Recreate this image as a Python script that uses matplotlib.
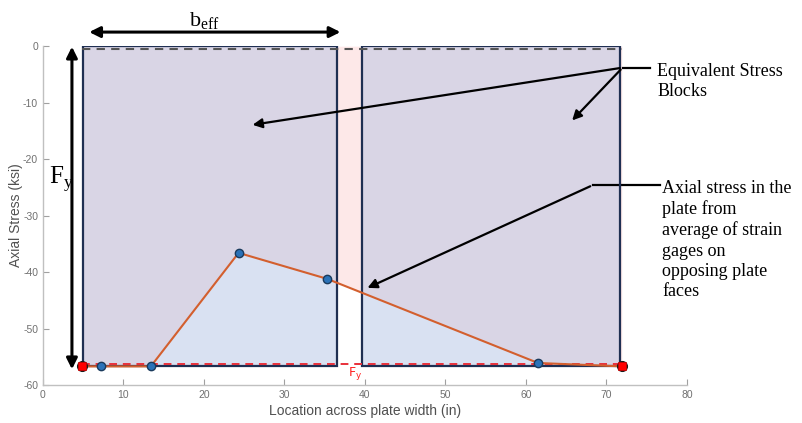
import numpy as np
import matplotlib.pyplot as plt
from matplotlib.patches import Rectangle

plt.rcParams['axes.unicode_minus'] = False

# strain gage data (location in, averaged axial stress ksi)
loc = [4.9, 7.2, 13.4, 24.3, 35.3, 61.5, 71.9]
stress = [-56.7, -56.7, -56.7, -36.6, -41.2, -56.1, -56.7]
Fy = -56.7

# equivalent stress blocks (left edge, right edge)
block_left = [4.97, 39.6]
block_right = [36.5, 71.7]

xticks = [0, 10, 20, 30, 40, 50, 60, 70, 80]
yticks = [0, -10, -20, -30, -40, -50, -60]

serif = 'Liberation Serif'
sans = 'Liberation Sans'

fig = plt.figure(figsize=(8.03, 4.23), dpi=100)
ax = fig.add_axes([0.0535, 0.0898, 0.802, 0.801])
ax.set_xlim(0, 80)
ax.set_ylim(-60, 0)

# pink area between curve and zero (only visible in the gap)
ax.fill_between(loc, stress, 0, color='#fde8e8', lw=0, zorder=0)

for l, r in zip(block_left, block_right):
    ax.add_patch(Rectangle((l, Fy), r - l, -Fy, facecolor='#d9d5e5', edgecolor='none', zorder=1))
    clip = Rectangle((l, Fy), r - l, -Fy, transform=ax.transData)
    fb = ax.fill_between(loc, Fy, stress, color='#d9e1f2', lw=0, zorder=2)
    fb.set_clip_path(clip)
    ax.add_patch(Rectangle((l, Fy), r - l, -Fy, facecolor='none', edgecolor='#1f2f52', lw=1.6, zorder=3))

ax.plot([loc[0], loc[-1]], [-0.45, -0.45], ls=(0, (4, 3)), color='#555555', lw=1.5, zorder=4)
ax.plot([loc[0], loc[-1]], [Fy + 0.35, Fy + 0.35], ls=(0, (4, 3)), color='#e8303a', lw=1.4, zorder=4)

ax.plot(loc, stress, color='#d35f2e', lw=1.5, zorder=5)
ax.plot(loc[1:-1], stress[1:-1], 'o', ms=6, mfc='#2a72b8', mec='#1a3a5c', mew=1, ls='none', zorder=6)
ax.plot([loc[0], loc[-1]], [stress[0], stress[-1]], 'o', ms=7, mfc='#1a1a1a', mec='#1a1a1a', ls='none', zorder=6, clip_on=False)
ax.plot([loc[0], loc[-1]], [stress[0], stress[-1]], 's', ms=5.5, mfc='#ff0000', mec='#cc0000', mew=0.5, ls='none', zorder=7, clip_on=False)

ax.text(37.9, -58.0, r'$\mathregular{F_y}$', color='#ff2020', fontsize=9, ha='left', va='center', zorder=8)

# axes styling (matlab look)
for s in ['top', 'right']:
    ax.spines[s].set_visible(False)
for s in ['left', 'bottom']:
    ax.spines[s].set_color('#c0c0c0')
    ax.spines[s].set_linewidth(1)
ax.set_xticks(xticks)
ax.set_yticks(yticks)
ax.tick_params(direction='in', length=4, color='#a0a0a0', labelcolor='#707070', labelsize=7.5)
for t in ax.get_xticklabels() + ax.get_yticklabels():
    t.set_family(sans)
ax.set_xlabel('Location across plate width (in)', fontsize=10, color='#505050', family=sans, labelpad=3)
ax.set_ylabel('Axial Stress (ksi)', fontsize=10, color='#505050', family=sans)
ax.yaxis.set_label_coords(-0.031, 0.5)

# annotations
arr = dict(arrowstyle='<|-|>', color='black', lw=2.2, mutation_scale=16)
ax.annotate('', xy=(5.4, 2.5), xytext=(37.3, 2.5), arrowprops=arr, annotation_clip=False)
ax.text(20.1, 3.5, r'b$_{\mathregular{eff}}$', family=serif, fontsize=16, ha='center', va='baseline', clip_on=False)
ax.annotate('', xy=(3.6, 0.4), xytext=(3.6, -57.7), arrowprops=arr, annotation_clip=False)
ax.text(0.7, -24.4, r'F$_{\mathregular{y}}$', family=serif, fontsize=18, ha='left', va='baseline')

one = dict(arrowstyle='-|>', color='black', lw=1.6, mutation_scale=14)
ax.plot([72.0, 75.4], [-3.8, -3.8], color='black', lw=1.6, clip_on=False)
ax.annotate('', xy=(25.7, -14.0), xytext=(72.0, -3.8), arrowprops=one, annotation_clip=False)
ax.annotate('', xy=(65.5, -13.5), xytext=(72.0, -3.8), arrowprops=one, annotation_clip=False)
ax.text(76.3, -6.2, 'Equivalent Stress\nBlocks', family=serif, fontsize=13, ha='left', va='center',
        linespacing=1.25, clip_on=False)

ax.plot([68.3, 76.6], [-24.6, -24.6], color='black', lw=1.6, clip_on=False)
ax.annotate('', xy=(40.0, -43.0), xytext=(68.3, -24.6), arrowprops=one, annotation_clip=False)
ax.text(76.9, -34.3, 'Axial stress in the\nplate from\naverage of strain\ngages on\nopposing plate\nfaces',
        family=serif, fontsize=13, ha='left', va='center', linespacing=1.25, clip_on=False)

fig.savefig('out.png', dpi=100)
